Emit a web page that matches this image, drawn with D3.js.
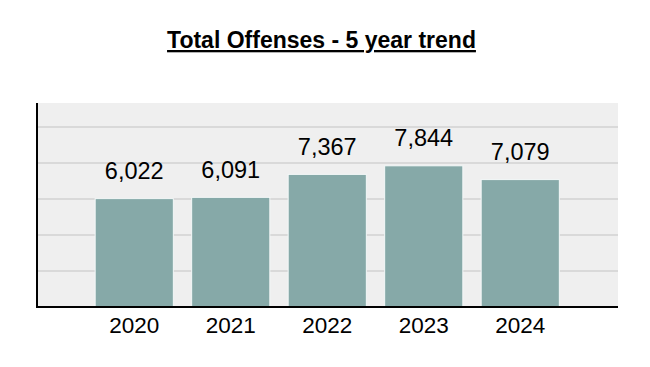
<!DOCTYPE html>
<html><head><meta charset="utf-8">
<script src="https://cdn.jsdelivr.net/npm/d3@7"></script>
<style>body{margin:0;background:#fff}svg{display:block}</style>
</head><body>
<svg id="c" width="650" height="367"></svg>
<script>
const years = ["2020","2021","2022","2023","2024"];
const offenses = [6022, 6091, 7367, 7844, 7079];
const gridValues = [2000, 4000, 6000, 8000, 10000];
const title = "Total Offenses - 5 year trend";

const svg = d3.select("#c");
const font = "'Liberation Sans', Arial, sans-serif";
const plot = {left: 38, right: 618, top: 103, bottom: 307};

const x = d3.scaleBand().domain(years).range([86, 568.5]).paddingInner(0.19).paddingOuter(0.095);
const y = d3.scaleLinear().domain([0, 11333]).range([plot.bottom, plot.top]);

svg.append("rect").attr("x", plot.left).attr("y", plot.top)
  .attr("width", plot.right - plot.left).attr("height", plot.bottom - plot.top).attr("fill", "#efefef");

svg.append("g").selectAll("line").data(gridValues).join("line")
  .attr("x1", plot.left).attr("x2", plot.right)
  .attr("y1", d => y(d)).attr("y2", d => y(d))
  .attr("stroke", "#d9d9d9").attr("stroke-width", 2);

svg.append("g").selectAll("rect").data(offenses).join("rect")
  .attr("x", (d, i) => x(years[i])).attr("width", x.bandwidth())
  .attr("y", d => y(d)).attr("height", d => plot.bottom - y(d))
  .attr("fill", "#86a9a8").attr("stroke", "#f4f8f8").attr("stroke-width", 1);

svg.append("g").selectAll("text").data(offenses).join("text")
  .attr("x", (d, i) => x(years[i]) + x.bandwidth() / 2)
  .attr("y", d => y(d) - 19.5)
  .attr("text-anchor", "middle").attr("font-family", font).attr("font-size", 23.5)
  .attr("fill", "#000").text(d => d3.format(",")(d));

const xAxis = svg.append("g").attr("transform", `translate(0,${plot.bottom})`)
  .call(d3.axisBottom(x).tickSize(0).tickPadding(10));
xAxis.select(".domain").remove();
xAxis.selectAll("text").attr("font-family", font).attr("font-size", 22.5).attr("fill", "#000").attr("dy", "0.71em");

svg.append("line").attr("x1", plot.left - 1).attr("x2", plot.left - 1)
  .attr("y1", plot.top).attr("y2", plot.bottom + 1).attr("stroke", "#000").attr("stroke-width", 2);
svg.append("line").attr("x1", plot.left - 2).attr("x2", plot.right)
  .attr("y1", plot.bottom).attr("y2", plot.bottom).attr("stroke", "#000").attr("stroke-width", 2);

svg.append("text").attr("x", 321.5).attr("y", 48).attr("text-anchor", "middle")
  .attr("font-family", font).attr("font-size", 23).attr("font-weight", "bold")
  .attr("text-decoration", "underline").attr("fill", "#000").text(title);
</script>
</body></html>
